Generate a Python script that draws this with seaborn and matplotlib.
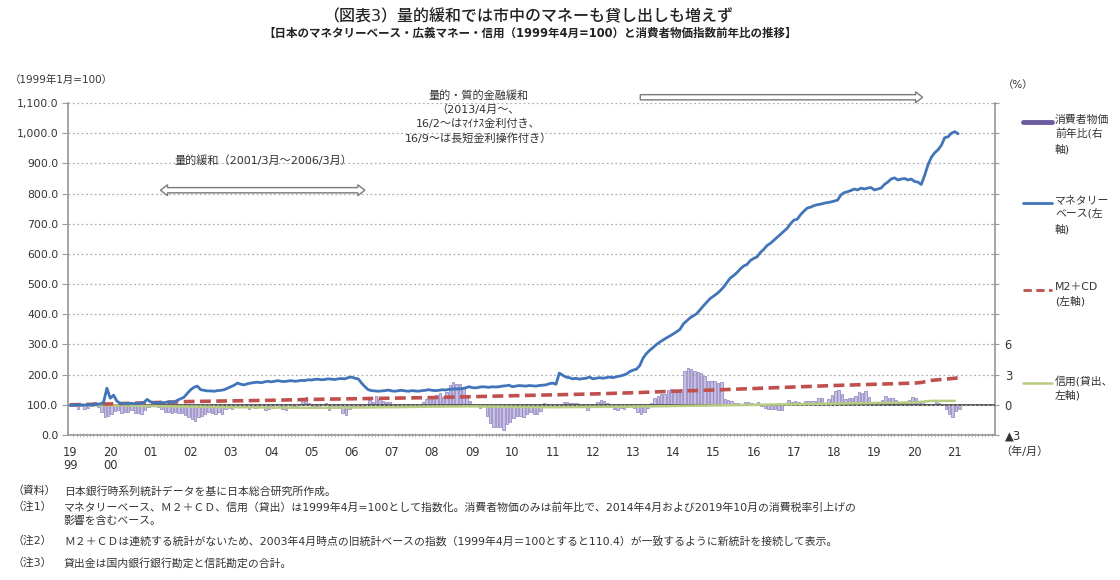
import numpy as np
import pandas as pd
import matplotlib
matplotlib.use("Agg")
import matplotlib.pyplot as plt
import seaborn as sns
from matplotlib.patches import Polygon
from matplotlib.lines import Line2D
from matplotlib.transforms import IdentityTransform

# ---------------- data ----------------
start_year = 1999
# Monetary base index, monthly from 1999-01 (left axis)
monetary_base = [
    98, 99, 100, 100, 99, 100, 101, 100, 102, 103, 108, 155,      # 1999
    122, 132, 112, 105, 104, 104, 105, 104, 104, 105, 107, 118,   # 2000
    110, 107, 106, 108, 107, 109, 110, 108, 115, 120, 125, 138,   # 2001
    150, 158, 162, 150, 148, 146, 146, 145, 147, 148, 150, 155,   # 2002
    160, 165, 172, 168, 166, 170, 172, 174, 175, 173, 176, 178,   # 2003
    176, 178, 180, 178, 177, 179, 180, 178, 179, 181, 180, 183,   # 2004
    182, 184, 185, 183, 184, 186, 185, 184, 186, 187, 186, 190,   # 2005
    192, 188, 186, 172, 160, 150, 147, 146, 145, 146, 147, 149,   # 2006
    146, 145, 147, 148, 146, 145, 147, 146, 145, 147, 148, 150,   # 2007
    148, 147, 148, 150, 149, 151, 152, 153, 152, 154, 156, 160,   # 2008
    157, 156, 158, 160, 159, 158, 160, 159, 160, 162, 163, 165,   # 2009
    160, 162, 164, 163, 162, 164, 163, 162, 164, 165, 166, 170,   # 2010
    172, 168, 205, 198, 192, 190, 186, 188, 185, 187, 188, 192,   # 2011
    186, 188, 190, 188, 190, 192, 190, 193, 195, 198, 202, 210,   # 2012
    215, 218, 230, 255, 270, 281, 290, 300, 308, 315, 322, 328,   # 2013
    335, 342, 350, 368, 378, 388, 395, 402, 415, 428, 440, 452,   # 2014
    460, 468, 478, 490, 505, 520, 528, 538, 550, 560, 565, 578,   # 2015
    585, 590, 605, 615, 628, 635, 645, 655, 665, 675, 685, 700,   # 2016
    712, 715, 730, 742, 752, 755, 760, 763, 765, 768, 770, 772,   # 2017
    775, 778, 795, 803, 806, 810, 815, 812, 818, 815, 818, 820,   # 2018
    812, 815, 818, 830, 838, 848, 852, 845, 848, 850, 845, 848,   # 2019
    840, 838, 830, 860, 895, 920, 935, 945, 960, 985, 988, 1000,  # 2020
    1005, 998,                                                    # 2021
]
# CPI year-on-year (%), monthly from 1999-01 (right axis)
cpi_yoy = [
    0.2, -0.1, -0.4, -0.1, -0.4, -0.3, -0.1, 0.3, -0.2, -0.7, -1.2, -1.1,   # 1999
    -0.9, -0.6, -0.5, -0.8, -0.7, -0.7, -0.5, -0.8, -0.8, -0.9, -0.5, -0.2, # 2000
    -0.1, -0.1, -0.2, -0.4, -0.7, -0.7, -0.8, -0.7, -0.8, -0.8, -1.0, -1.2, # 2001
    -1.4, -1.6, -1.2, -1.1, -0.9, -0.7, -0.8, -0.9, -0.7, -0.9, -0.4, -0.3, # 2002
    -0.4, -0.2, -0.1, -0.1, -0.2, -0.4, -0.2, -0.3, -0.2, 0.0, -0.5, -0.4,  # 2003
    -0.3, 0.0, -0.1, -0.4, -0.5, 0.0, -0.1, -0.2, 0.0, 0.5, 0.8, 0.2,       # 2004
    -0.1, -0.3, -0.2, 0.0, 0.2, -0.5, -0.3, -0.3, -0.3, -0.8, -1.0, -0.4,   # 2005
    -0.1, -0.1, -0.2, -0.1, 0.1, 0.5, 0.3, 0.9, 0.6, 0.4, 0.3, 0.3,         # 2006
    0.0, -0.2, -0.1, 0.0, 0.0, -0.2, 0.0, -0.2, -0.2, 0.3, 0.6, 0.7,        # 2007
    0.7, 1.0, 1.2, 0.8, 1.3, 2.0, 2.3, 2.1, 2.1, 1.7, 1.0, 0.4,             # 2008
    0.0, -0.1, -0.3, -0.1, -1.1, -1.8, -2.2, -2.2, -2.2, -2.5, -1.9, -1.7,  # 2009
    -1.3, -1.1, -1.1, -1.2, -0.9, -0.7, -0.9, -0.9, -0.6, 0.2, 0.1, 0.0,    # 2010
    0.0, 0.0, 0.0, 0.3, 0.3, 0.2, 0.2, 0.2, 0.0, -0.2, -0.5, -0.2,          # 2011
    0.1, 0.3, 0.5, 0.4, 0.2, -0.2, -0.4, -0.5, -0.3, -0.4, -0.2, -0.1,      # 2012
    -0.3, -0.7, -0.9, -0.7, -0.3, 0.2, 0.7, 0.9, 1.1, 1.1, 1.5, 1.6,        # 2013
    1.4, 1.5, 1.6, 3.4, 3.7, 3.6, 3.4, 3.3, 3.2, 2.9, 2.4, 2.4,             # 2014
    2.4, 2.2, 2.3, 0.6, 0.5, 0.4, 0.2, 0.2, 0.0, 0.3, 0.3, 0.2,             # 2015
    0.0, 0.3, -0.1, -0.3, -0.4, -0.4, -0.4, -0.5, -0.5, 0.1, 0.5, 0.3,      # 2016
    0.4, 0.3, 0.2, 0.4, 0.4, 0.4, 0.4, 0.7, 0.7, 0.2, 0.6, 1.0,             # 2017
    1.4, 1.5, 1.1, 0.6, 0.7, 0.7, 0.9, 1.3, 1.2, 1.4, 0.8, 0.3,             # 2018
    0.2, 0.2, 0.5, 0.9, 0.7, 0.7, 0.5, 0.3, 0.2, 0.2, 0.5, 0.8,             # 2019
    0.7, 0.4, 0.4, 0.1, 0.1, 0.1, 0.3, 0.2, 0.0, -0.4, -0.9, -1.2,          # 2020
    -0.6, -0.4,                                                             # 2021
]
# M2+CD index (left axis)
m2_dates = ["1999-01", "2000-01", "2001-01", "2002-01", "2003-01", "2004-01",
            "2005-01", "2006-01", "2007-01", "2008-01", "2009-01", "2010-01",
            "2011-01", "2012-01", "2013-01", "2014-01", "2015-01", "2016-01",
            "2017-01", "2018-01", "2019-01", "2020-01", "2020-03", "2020-06",
            "2020-12", "2021-02"]
m2_values = [100, 103, 107, 111, 113, 115, 118, 120, 122, 124, 127, 130,
             133, 136, 140, 145, 149, 154, 159, 164, 168, 172, 174, 181,
             187, 189]
# Credit (loans) index (left axis)
credit_dates = ["1999-01", "2000-01", "2001-01", "2002-01", "2003-01", "2004-01",
                "2005-01", "2006-01", "2007-01", "2008-01", "2009-01", "2010-01",
                "2011-01", "2012-01", "2013-01", "2014-01", "2015-01", "2016-01",
                "2017-01", "2018-01", "2019-01", "2020-01", "2020-06", "2021-01"]
credit_values = [100, 98, 96, 94, 92, 91, 90, 91, 92, 94, 95, 93,
                 92, 93, 94, 96, 98, 100, 102, 104, 106, 108, 113, 113]

year_ticks = list(range(1999, 2022))
year_labels = ["19\n99", "20\n00"] + [f"{y % 100:02d}" for y in range(2001, 2022)]
left_ticks = list(range(0, 1200, 100))
right_ticks = list(range(-3, 33, 3))
right_labels = {-3: "▲3", 0: "0", 3: "3", 6: "6"}

title = "（図表3）量的緩和では市中のマネーも貸し出しも増えず"
subtitle = "【日本のマネタリーベース・広義マネー・信用（1999年4月=100）と消費者物価指数前年比の推移】"
legend_labels = ["消費者物価\n前年比(右\n軸)", "マネタリー\nベース(左\n軸)", "M2＋CD\n(左軸)", "信用(貸出、\n左軸)"]
notes = [
    ("（資料）", "日本銀行時系列統計データを基に日本総合研究所作成。"),
    ("（注1）", "マネタリーベース、Ｍ２＋ＣＤ、信用（貸出）は1999年4月=100として指数化。消費者物価のみは前年比で、2014年4月および2019年10月の消費税率引上げの"),
    ("", "影響を含むベース。"),
    ("（注2）", "Ｍ２＋ＣＤは連続する統計がないため、2003年4月時点の旧統計ベースの指数（1999年4月＝100とすると110.4）が一致するように新統計を接続して表示。"),
    ("（注3）", "貸出金は国内銀行銀行勘定と信託勘定の合計。"),
]

# ---------------- helpers ----------------
def to_decimal(s):
    y, m = s.split("-")
    return int(y) + (int(m) - 1) / 12

t_month = start_year + np.arange(len(monetary_base)) / 12
df = pd.DataFrame({"t": t_month, "mb": monetary_base, "cpi": cpi_yoy})
df_m2 = pd.DataFrame({"t": [to_decimal(d) for d in m2_dates], "v": m2_values})
df_cr = pd.DataFrame({"t": [to_decimal(d) for d in credit_dates], "v": credit_values})

# ---------------- style ----------------
sns.set_theme(style="white")
plt.rcParams["font.family"] = ["DejaVu Sans", "Noto Sans CJK JP"]
TXT = "#333333"
GRAY = "#9a9a9a"

W, H = 1120, 580
fig = plt.figure(figsize=(W / 100, H / 100), dpi=100)
L, R, B, T = 68, 995, 435, 103
ax = fig.add_axes([L / W, 1 - B / H, (R - L) / W, (B - T) / H])
ax2 = ax.twinx()

xmin, xmax = 1998.95, 2022.0
ax.set_xlim(xmin, xmax)
ax.set_ylim(0, 1100)
ax2.set_ylim(-3, 30)

# CPI bars (right axis)
ax2.bar(df["t"], df["cpi"], width=0.06, color="#c8c0e4", edgecolor="#7f72b5",
        linewidth=0.45, align="edge", zorder=2)
ax2.axhline(0, color="#4a4a4a", lw=1.3, zorder=3)

# lines (left axis)
ax.set_zorder(ax2.get_zorder() + 1)
ax.patch.set_visible(False)
sns.lineplot(data=df_cr, x="t", y="v", ax=ax, color="#b7cc80", lw=1.8, zorder=4)
sns.lineplot(data=df_m2, x="t", y="v", ax=ax, color="#c0504d", lw=2.6, zorder=5)
ax.lines[-1].set_linestyle((0, (3.0, 1.5)))
sns.lineplot(data=df, x="t", y="mb", ax=ax, color="#4174b8", lw=2.0, zorder=6)

# gridlines
for v in left_ticks[1:]:
    ax.axhline(v, color="#b0b0b0", lw=0.9, ls=(0, (1.5, 2.0)), zorder=1)

# axes styling
for a in (ax, ax2):
    a.spines["top"].set_visible(False)
ax.spines["left"].set_color(GRAY)
ax.spines["bottom"].set_color(GRAY)
ax2.spines["right"].set_color(GRAY)
ax2.spines["left"].set_visible(False)
ax2.spines["bottom"].set_visible(False)
ax.spines["right"].set_visible(False)

ax.set_xlabel("")
ax.set_ylabel("")
ax2.set_ylabel("")
ax.set_yticks(left_ticks)
ax.set_yticklabels([f"{v:,.1f}" for v in left_ticks])
ax.tick_params(axis="y", which="major", direction="out", length=4, width=0.8,
               color=GRAY, labelsize=7.8, labelcolor=TXT, pad=3, left=True)
ax.set_xticks(year_ticks)
ax.set_xticklabels(year_labels, linespacing=1.0)
ax.set_xticks(start_year + np.arange(0, (2022 - start_year) * 12) / 12, minor=True)
ax.tick_params(axis="x", which="major", length=0, labelsize=8.3, labelcolor=TXT, pad=8)
ax.tick_params(axis="x", which="minor", direction="inout", length=3, width=0.5,
               color="#aaaaaa", bottom=True)

ax2.set_yticks(right_ticks)
ax2.set_yticklabels([right_labels.get(v, "") for v in right_ticks])
ax2.tick_params(axis="y", direction="inout", length=6, width=0.8, color=GRAY,
                labelsize=8.3, labelcolor=TXT, pad=4, right=True)
ax.grid(False)
ax2.grid(False)

# ---------------- arrows ----------------
def hollow_arrow(t0, t1, yv, double):
    x0, y0 = ax.transData.transform((t0, yv))
    x1, _ = ax.transData.transform((t1, yv))
    s, h, hl = 2.6, 5.5, 7.0
    if double:
        pts = [(x0, y0), (x0 + hl, y0 + h), (x0 + hl, y0 + s), (x1 - hl, y0 + s),
               (x1 - hl, y0 + h), (x1, y0), (x1 - hl, y0 - h), (x1 - hl, y0 - s),
               (x0 + hl, y0 - s), (x0 + hl, y0 - h)]
    else:
        pts = [(x0, y0 + s), (x1 - hl, y0 + s), (x1 - hl, y0 + h), (x1, y0),
               (x1 - hl, y0 - h), (x1 - hl, y0 - s), (x0, y0 - s)]
    fig.add_artist(Polygon(pts, closed=True, transform=IdentityTransform(),
                           fc="white", ec="#7a7a7a", lw=1.0, zorder=10))

hollow_arrow(2001.25, 2006.33, 811, True)
hollow_arrow(2013.18, 2020.2, 1119, False)

ax.text(2003.8, 910, "量的緩和（2001/3月～2006/3月）", ha="center", va="center",
        fontsize=8, color=TXT)
ax.text(2009.15, 1053, "量的・質的金融緩和\n（2013/4月～、\n16/2～はﾏｲﾅｽ金利付き、\n16/9～は長短金利操作付き）",
        ha="center", va="center", fontsize=8, color=TXT, linespacing=1.45, clip_on=False)

# ---------------- texts ----------------
fig.text(528 / W, 1 - 17 / H, title, ha="center", va="center", fontsize=11.5,
         color="#222222", fontweight="medium")
fig.text(530 / W, 1 - 33 / H, subtitle, ha="center", va="center", fontsize=8.3,
         color="#222222", fontweight="bold")
fig.text(10 / W, 1 - 80 / H, "（1999年1月=100）", ha="left", va="center", fontsize=7.5, color=TXT)
fig.text(1003 / W, 1 - 85 / H, "（%）", ha="left", va="center", fontsize=7.5, color=TXT)
fig.text(1000 / W, 1 - 452 / H, "（年/月）", ha="left", va="center", fontsize=8, color=TXT)

# manual legend
leg_y = [122, 203, 290, 383]
leg_handles = [
    dict(color="#6b5c9e", lw=3.5, ls="-"),
    dict(color="#4174b8", lw=2.0, ls="-"),
    dict(color="#c0504d", lw=2.0, ls=(0, (3.0, 1.6))),
    dict(color="#b7cc80", lw=1.8, ls="-"),
]
for y, lab, hk in zip(leg_y, legend_labels, leg_handles):
    fig.add_artist(Line2D([1023 / W, 1052 / W], [1 - y / H, 1 - y / H],
                          transform=fig.transFigure, **hk))
    fig.text(1055 / W, 1 - (y - 7.5) / H, lab, ha="left", va="top", fontsize=7.8,
             color=TXT, linespacing=1.45)

# notes
note_y = [491, 507, 521, 541, 563]
for y, (lab, txt) in zip(note_y, notes):
    if lab:
        fig.text(12 / W, 1 - y / H, lab, ha="left", va="center", fontsize=7.8, color=TXT)
    fig.text(64 / W, 1 - y / H, txt, ha="left", va="center", fontsize=7.8, color=TXT)

fig.savefig("out.png", dpi=100, facecolor="white")
